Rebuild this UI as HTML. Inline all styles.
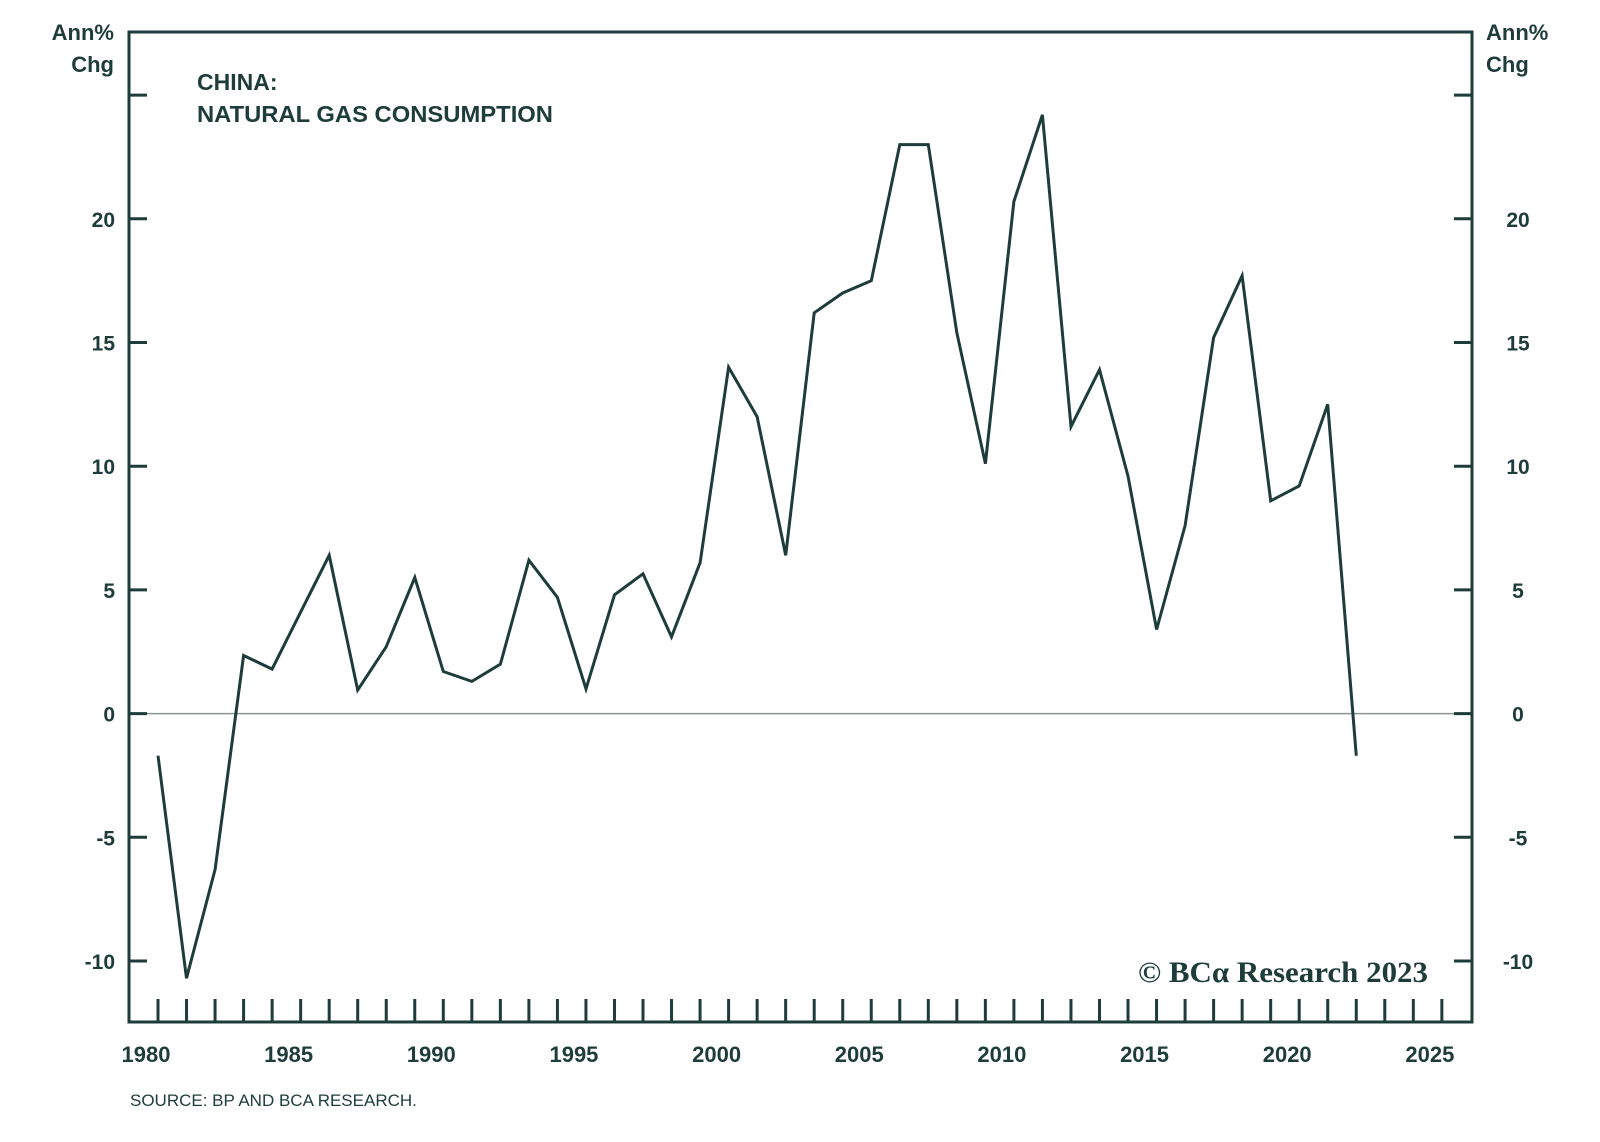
<!DOCTYPE html>
<html><head><meta charset="utf-8"><style>
body{margin:0;background:#fff;}
svg{display:block;}
text{font-family:"Liberation Sans",sans-serif;fill:#1d3c3a;font-weight:bold;}
</style></head><body>
<svg id="chart" width="1600" height="1142" viewBox="0 0 1600 1142" xmlns="http://www.w3.org/2000/svg">
<g id="axes"></g>
<g id="marks"></g>
<text x="114" y="40" font-size="22" text-anchor="end">Ann%</text>
<text x="114" y="72" font-size="22" text-anchor="end">Chg</text>
<text x="1486" y="40" font-size="22">Ann%</text>
<text x="1486" y="72" font-size="22">Chg</text>
<text x="197" y="90" font-size="23">CHINA:</text>
<text x="197" y="122" font-size="23" textLength="356" lengthAdjust="spacingAndGlyphs">NATURAL GAS CONSUMPTION</text>
<text x="1428" y="982" font-size="30" text-anchor="end" textLength="290" lengthAdjust="spacingAndGlyphs" style="font-family:'Liberation Serif',serif;font-weight:bold">© BCα Research 2023</text>
<text x="130" y="1106" font-size="17" style="font-weight:normal">SOURCE: BP AND BCA RESEARCH.</text>
</svg>
<script>
const years=[1980,1981,1982,1983,1984,1985,1986,1987,1988,1989,1990,1991,1992,1993,1994,1995,1996,1997,1998,1999,2000,2001,2002,2003,2004,2005,2006,2007,2008,2009,2010,2011,2012,2013,2014,2015,2016,2017,2018,2019,2020,2021,2022];
const values=[-1.7,-10.7,-6.3,2.35,1.8,4.1,6.4,0.95,2.7,5.5,1.7,1.3,2.0,6.2,4.7,1.0,4.8,5.65,3.1,6.1,14.0,12.0,6.4,16.2,17.0,17.5,23.0,23.0,15.4,10.1,20.7,24.2,11.6,13.9,9.6,3.4,7.6,15.2,17.7,8.6,9.2,12.5,-1.7];
const yTicks=[-10,-5,0,5,10,15,20,25];
const yLabels=["-10","-5","0","5","10","15","20",""];
const xLabelYears=[1980,1985,1990,1995,2000,2005,2010,2015,2020,2025];
const L=129,R=1472,T=32,B=1022,C="#1d3c3a",NS="http://www.w3.org/2000/svg";
function sx(y){return 158+(y-1980)*28.53;}
function sy(v){return 713.6-v*24.74;}
function mk(tag,attrs,parent){const e=document.createElementNS(NS,tag);for(const k in attrs)e.setAttribute(k,attrs[k]);parent.appendChild(e);return e;}
const ax=document.getElementById('axes'),mg=document.getElementById('marks');
let z=mk('line',{x1:L,x2:R,y1:sy(0),y2:sy(0),stroke:'#8a9593','stroke-width':1.5},ax);


let fr=mk('rect',{x:L,y:T,width:R-L,height:B-T,fill:'none',stroke:C,'stroke-width':3},ax);


yTicks.forEach((v,i)=>{
  const y=sy(v);
  let t1=mk('line',{x1:L,x2:L+18,y1:y,y2:y,stroke:C,'stroke-width':3},ax);
  
  
  let t2=mk('line',{x1:R-18,x2:R,y1:y,y2:y,stroke:C,'stroke-width':3},ax);
  
  
  if(yLabels[i]){
    let a=mk('text',{x:115,y:y+8,'font-size':21,'text-anchor':'end'},ax);a.textContent=yLabels[i];
    
    
    let b=mk('text',{x:R+46,y:y+8,'font-size':21,'text-anchor':'middle'},ax);b.textContent=yLabels[i];
    
    
  }
});
for(let yr=1980;yr<=2025;yr++){
  const x=sx(yr);
  let t=mk('line',{x1:x,x2:x,y1:B-23,y2:B,stroke:C,'stroke-width':3},ax);
  
  
}
xLabelYears.forEach(yr=>{
  let t=mk('text',{x:sx(yr)-12,y:1062,'font-size':22,'text-anchor':'middle'},ax);t.textContent=yr;
  
  
});
const pts=years.map((yr,i)=>sx(yr).toFixed(1)+','+sy(values[i]).toFixed(1)).join(' ');
let pl=mk('polyline',{points:pts,fill:'none',stroke:C,'stroke-width':3,'stroke-linejoin':'miter'},mg);


</script>
</body></html>
